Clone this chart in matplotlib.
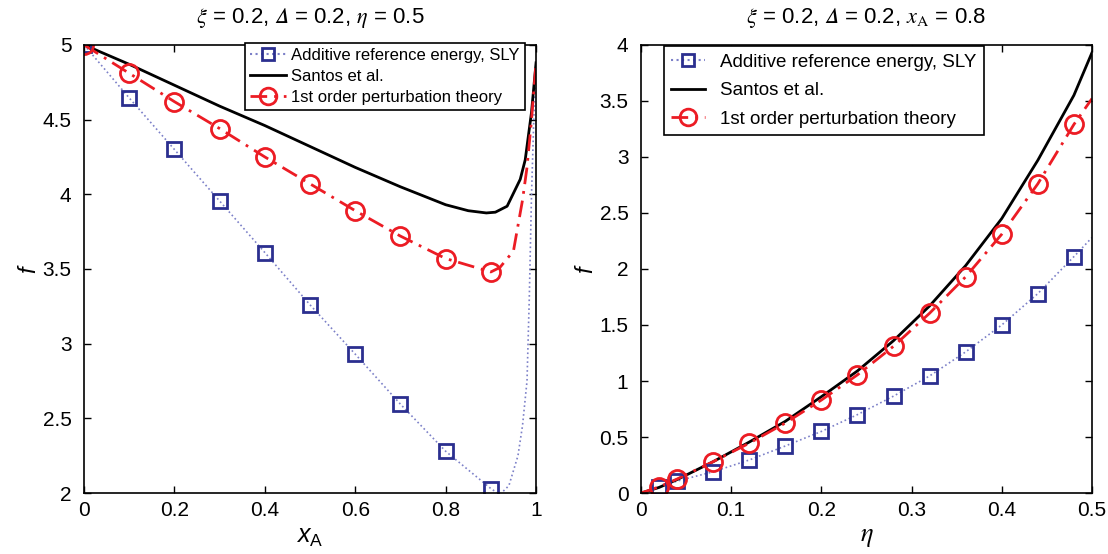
import matplotlib
matplotlib.use("Agg")
import matplotlib.pyplot as plt

plt.rcParams['font.family'] = ['Liberation Sans', 'DejaVu Sans']
plt.rcParams['mathtext.fontset'] = 'custom'
plt.rcParams['mathtext.rm'] = 'Liberation Sans'
plt.rcParams['mathtext.it'] = 'Liberation Sans:italic'

# left panel: f vs x_A  (xi=0.2, Delta=0.2, eta=0.5)
xa_mark = [0.0, 0.1, 0.2, 0.3, 0.4, 0.5, 0.6, 0.7, 0.8, 0.9]
sly_mark_l = [5.0, 4.645, 4.30, 3.955, 3.61, 3.26, 2.93, 2.595, 2.28, 2.03]
pt_mark_l = [5.0, 4.81, 4.62, 4.44, 4.25, 4.07, 3.89, 3.72, 3.57, 3.48]

xa_sly = [0.0, 0.1, 0.2, 0.3, 0.4, 0.5, 0.6, 0.7, 0.8, 0.9, 0.92, 0.94,
          0.96, 0.97, 0.98, 0.985, 0.99, 0.995, 1.0]
sly_l = [5.0, 4.645, 4.30, 3.955, 3.61, 3.26, 2.93, 2.595, 2.28, 2.03, 1.99,
         2.05, 2.25, 2.45, 2.75, 3.3, 4.0, 4.5, 4.85]

xa_pt = [0.0, 0.1, 0.2, 0.3, 0.4, 0.5, 0.6, 0.7, 0.8, 0.9, 0.92, 0.95,
         0.97, 0.98, 0.99, 1.0]
pt_l = [5.0, 4.81, 4.62, 4.44, 4.25, 4.07, 3.89, 3.72, 3.57, 3.48, 3.51,
        3.62, 3.96, 4.18, 4.5, 4.88]

xa_san = [0.0, 0.1, 0.2, 0.3, 0.4, 0.5, 0.6, 0.7, 0.8, 0.85, 0.89, 0.91,
          0.936, 0.965, 0.976, 0.99, 1.0]
san_l = [5.0, 4.87, 4.73, 4.59, 4.46, 4.32, 4.18, 4.05, 3.93, 3.89, 3.875,
         3.88, 3.92, 4.1, 4.23, 4.55, 4.88]

# right panel: f vs eta  (xi=0.2, Delta=0.2, x_A=0.8)
eta_mark = [0.02, 0.04, 0.08, 0.12, 0.16, 0.20, 0.24, 0.28, 0.32, 0.36,
            0.40, 0.44, 0.48]
sly_mark_r = [0.05, 0.107, 0.19, 0.295, 0.42, 0.55, 0.70, 0.865, 1.045,
              1.26, 1.50, 1.78, 2.11]
pt_mark_r = [0.055, 0.125, 0.28, 0.445, 0.625, 0.83, 1.055, 1.31, 1.605,
             1.93, 2.31, 2.76, 3.29]

eta_line = [0.0] + eta_mark + [0.5]
sly_r = [0.0] + sly_mark_r + [2.28]
pt_r = [0.0] + pt_mark_r + [3.52]
san_r = [0.0, 0.05, 0.12, 0.28, 0.455, 0.64, 0.86, 1.09, 1.36, 1.67, 2.03,
         2.45, 2.97, 3.55, 3.93]

blue_m = '#2b2f8f'
blue_l = '#7c80c8'
red = '#ec1c24'

fig = plt.figure(figsize=(11.08, 5.54), dpi=100)
ax1 = fig.add_axes([0.0758, 0.110, 0.408, 0.809])
ax2 = fig.add_axes([0.5785, 0.110, 0.407, 0.809])


def draw(ax, xs, ys, xm, ym, xp, yp, xpm, ypm, xk, yk):
    ax.plot(xs, ys, ':', color=blue_l, lw=1.2)
    ax.plot(xk, yk, '-', color='black', lw=2)
    ax.plot(xp, yp, '-.', color=red, lw=2, dashes=(6, 2.5, 1, 2.5))
    ax.plot(xm, ym, 's', ms=10, mfc='none', mec=blue_m, mew=2)
    ax.plot(xpm, ypm, 'o', ms=13, mfc='none', mec=red, mew=2)
    # legend proxies
    h1, = ax.plot([], [], ':s', color=blue_l, ms=9, mfc='none', mec=blue_m, mew=2,
                  label='Additive reference energy, SLY')
    h2, = ax.plot([], [], '-', color='black', lw=2, label='Santos et al.')
    h3, = ax.plot([], [], '-.o', color=red, lw=2, ms=12, mfc='none', mec=red, mew=2,
                  dashes=(6, 2.5, 1, 2.5), label='1st order perturbation theory')
    return [h1, h2, h3]


hl = draw(ax1, xa_sly, sly_l, xa_mark, sly_mark_l, xa_pt, pt_l, xa_mark, pt_mark_l,
          xa_san, san_l)
hr = draw(ax2, eta_line, sly_r, eta_mark, sly_mark_r, eta_line, pt_r, eta_mark,
          pt_mark_r, eta_line, san_r)

ax1.set_xlim(0, 1)
ax1.set_ylim(2, 5)
ax1.set_xticks([0, 0.2, 0.4, 0.6, 0.8, 1])
ax1.set_xticklabels(['0', '0.2', '0.4', '0.6', '0.8', '1'])
ax1.set_yticks([2, 2.5, 3, 3.5, 4, 4.5, 5])
ax1.set_yticklabels(['2', '2.5', '3', '3.5', '4', '4.5', '5'])
ax1.set_xlabel('$x_{\\mathrm{A}}$', fontsize=18, labelpad=3)
ax1.set_ylabel('$f$', fontsize=17, labelpad=1)
ax1.set_title('$\\xi$ = 0.2, $𝛥$ = 0.2, $\\eta$ = 0.5', fontsize=16, pad=16,
              math_fontfamily='stix')

ax2.set_xlim(0, 0.5)
ax2.set_ylim(0, 4)
ax2.set_xticks([0, 0.1, 0.2, 0.3, 0.4, 0.5])
ax2.set_xticklabels(['0', '0.1', '0.2', '0.3', '0.4', '0.5'])
ax2.set_yticks([0, 0.5, 1, 1.5, 2, 2.5, 3, 3.5, 4])
ax2.set_yticklabels(['0', '0.5', '1', '1.5', '2', '2.5', '3', '3.5', '4'])
ax2.set_xlabel('$\\eta$', fontsize=19, labelpad=3, math_fontfamily='stix')
ax2.set_ylabel('$f$', fontsize=17, labelpad=1)
ax2.set_title('$\\xi$ = 0.2, $𝛥$ = 0.2, $x_{\\mathrm{A}}$ = 0.8', fontsize=16,
              pad=16, math_fontfamily='stix')

for ax in (ax1, ax2):
    ax.tick_params(direction='in', top=True, right=True, labelsize=15, length=5, width=1)
    ax.tick_params(axis='y', pad=9)
    ax.tick_params(axis='x', pad=6)
    for s in ax.spines.values():
        s.set_linewidth(1.2)

leg1 = ax1.legend(handles=hl, loc='upper right', bbox_to_anchor=(0.975, 1.004), fontsize=12,
                  fancybox=False, framealpha=1, edgecolor='black', borderpad=0.3,
                  handlelength=2.2, handletextpad=0.3, labelspacing=0.35, numpoints=1,
                  borderaxespad=0.0)
leg1.get_frame().set_linewidth(1.2)
leg2 = ax2.legend(handles=hr, loc='upper left', bbox_to_anchor=(0.05, 0.997), fontsize=13.5,
                  fancybox=False, framealpha=1, edgecolor='black', borderpad=0.4,
                  handlelength=1.8, handletextpad=0.8, labelspacing=0.6, numpoints=1,
                  borderaxespad=0.0)
leg2.get_frame().set_linewidth(1.2)

fig.savefig('out.png', dpi=100)
